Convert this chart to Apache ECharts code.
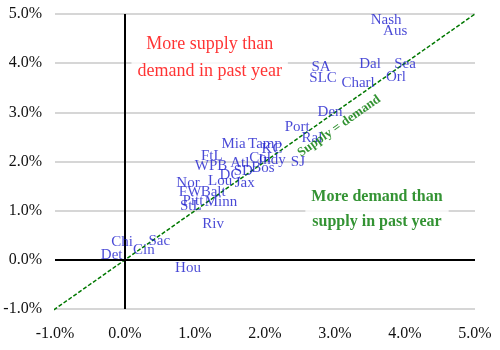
<!DOCTYPE html>
<html>
<head>
<meta charset="utf-8">
<script src="https://cdn.jsdelivr.net/npm/echarts@6/dist/echarts.min.js"></script>
<style>html,body{margin:0;padding:0;background:#fff}#c{width:500px;height:350px}</style>
</head>
<body>
<div id="c"></div>
<script>
const cities = ["Nash","Aus","SA","SLC","Dal","Sea","Charl","Orl","Den","Port","Ral","SJ",
  "Mia","Tamp","KC","Col","Indy","FtL","WPB","Atl","SD","Bos","DC","Lou","Jax",
  "Nor","FW","Balt","Pitt","StL","Minn","Riv","Sac","Chi","Cin","Det","Hou"];
const xVals = [3.73,3.86,2.80,2.83,3.50,4.00,3.33,3.87,2.93,2.46,2.67,2.47,
  1.55,2.00,2.10,1.93,2.10,1.24,1.23,1.64,1.69,1.97,1.50,1.36,1.71,
  0.90,0.93,1.26,0.97,0.94,1.37,1.26,0.49,-0.04,0.27,-0.19,0.90];
const yVals = [4.88,4.65,3.92,3.70,3.98,3.98,3.60,3.72,3.01,2.70,2.48,1.99,
  2.36,2.36,2.26,2.07,2.03,2.11,1.91,1.97,1.81,1.87,1.73,1.61,1.57,
  1.57,1.38,1.38,1.20,1.10,1.18,0.73,0.39,0.37,0.20,0.10,-0.16];
const axisMin = -1, axisMax = 5, axisStep = 1;
const diagLine = [[-2,-2],[5,5]];
const notes = [
  {text: "More supply than\ndemand in past year", pos: [1.21, 4.1], kind: "red"},
  {text: "More demand than\nsupply in past year", pos: [3.6, 1.02], kind: "green"}
];
const diagLabel = {text: "Supply = demand", pos: [3.06, 2.72]};

const FONT = "Liberation Serif";
const BLUE = "#1a1acc";
const GREEN = "#007800";
const fmt = v => v.toFixed(1) + "%";

const chart = echarts.init(document.getElementById('c'));
chart.setOption({
  animation: false,
  grid: {left: 55, right: 25, top: 14, bottom: 41},
  xAxis: {
    type: 'value', min: axisMin, max: axisMax, interval: axisStep,
    axisLine: {show: false}, axisTick: {show: false}, splitLine: {show: false},
    axisLabel: {formatter: fmt, fontFamily: FONT, fontSize: 16, color: '#111', margin: 17}
  },
  yAxis: {
    type: 'value', min: axisMin, max: axisMax, interval: axisStep,
    axisLine: {show: false}, axisTick: {show: false},
    splitLine: {lineStyle: {color: '#d6d6d6', width: 2}},
    axisLabel: {formatter: fmt, fontFamily: FONT, fontSize: 16, color: '#111', margin: 13}
  },
  series: [
    {
      type: 'line', data: diagLine, symbol: 'none', clip: false, silent: true,
      lineStyle: {color: GREEN, width: 1.5, type: [4, 2]}, z: 3,
      markLine: {
        silent: true, symbol: 'none', label: {show: false},
        lineStyle: {color: '#000', width: 2, type: 'solid'},
        data: [{xAxis: 0}, {yAxis: 0}]
      }
    },
    {
      type: 'scatter', symbolSize: 0, z: 5, silent: true,
      data: cities.map((c, i) => ({name: c, value: [xVals[i], yVals[i]]})),
      label: {show: true, position: 'inside', formatter: p => p.name,
        fontFamily: FONT, fontSize: 15, color: BLUE}
    },
    {
      type: 'scatter', symbolSize: 0, z: 6, silent: true,
      data: [{name: diagLabel.text, value: diagLabel.pos}],
      label: {show: true, position: 'inside', formatter: p => p.name, rotate: 35,
        fontFamily: FONT, fontSize: 13, fontWeight: 'bold', color: GREEN}
    },
    {
      type: 'scatter', symbolSize: 0, z: 7, silent: true,
      data: notes.map(n => ({name: n.text, value: n.pos,
        label: n.kind === 'red'
          ? {color: '#ff0000', fontSize: 18, fontWeight: 'normal', lineHeight: 27}
          : {color: GREEN, fontSize: 16, fontWeight: 'bold', lineHeight: 25}})),
      label: {show: true, position: 'inside', formatter: p => p.name, align: 'center',
        fontFamily: FONT, backgroundColor: '#fff', padding: [2, 6]}
    }
  ]
});
</script>
</body>
</html>
